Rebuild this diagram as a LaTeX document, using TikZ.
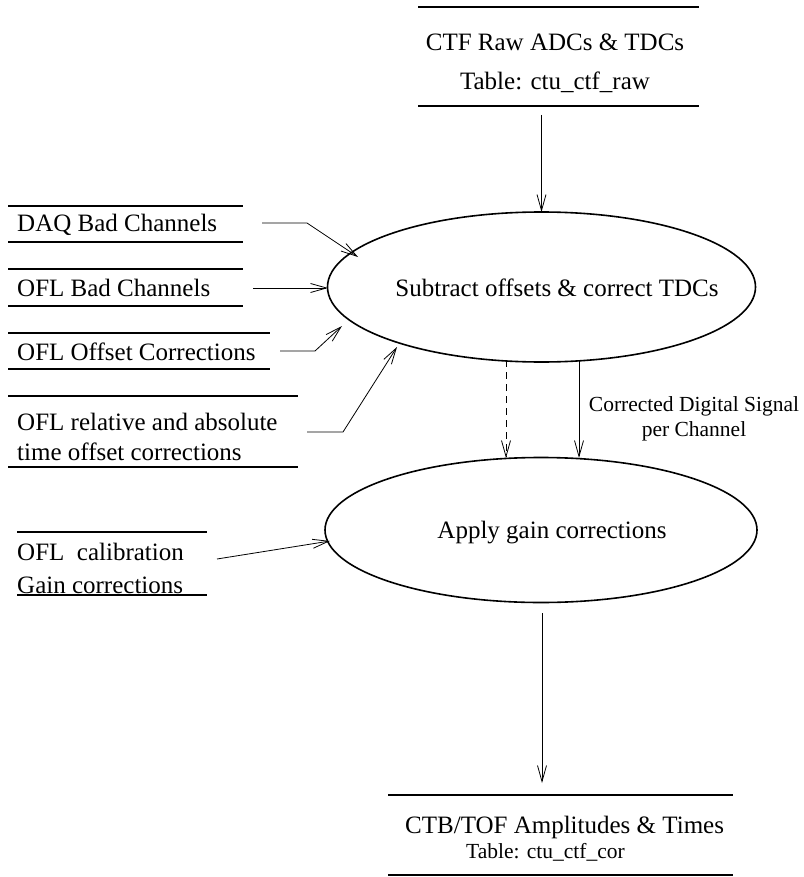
\documentclass[tikz,border=0pt]{standalone}
\usepackage{fontspec}
\setmainfont{Liberation Serif}
\usetikzlibrary{arrows.meta,shapes.geometric}
\begin{document}
\begin{tikzpicture}[x=1pt,y=-1pt,
  every node/.style={inner sep=0pt, font=\fontsize{25}{30}\selectfont},
  rule/.style={line width=1.6pt},
  flow/.style={line width=0.8pt, -{Straight Barb[length=16pt,width=9pt]}},
  proc/.style={ellipse, draw, line width=1.6pt, inner sep=0pt, outer sep=0pt},
  lbl/.style={anchor=west},
  small/.style={font=\fontsize{21.5}{26}\selectfont}]
\useasboundingbox (0,0) rectangle (803,877);

% data store: raw ADCs and TDCs
\draw[rule] (418,7) -- (699,7);
\node (raw) at (555,42) {CTF Raw ADCs \& TDCs};
\node (rawtab) at (555,82) {Table: ctu\_ctf\_raw};
\draw[rule] (418,106) -- (699,106);

% processes (outline and caption set separately)
\node[proc, minimum width=428pt, minimum height=150pt] (sub) at (541.5,287) {};
\node (subtxt) at (557,288) {Subtract offsets \& correct TDCs};
\node[proc, minimum width=432pt, minimum height=145pt] (gain) at (541,530) {};
\node (gaintxt) at (552,533) {Apply gain corrections};

% input stores on the left
\draw[rule] (8,206) -- (243,206);
\node[lbl] (daq) at (17,225) {DAQ Bad Channels};
\draw[rule] (8,242) -- (243,242);

\draw[rule] (8,269) -- (243,269);
\node[lbl] (oflbad) at (17,288) {OFL Bad Channels};
\draw[rule] (8,306) -- (243,306);

\draw[rule] (8,333) -- (270,333);
\node[lbl] (ofloff) at (17,352) {OFL Offset Corrections};
\draw[rule] (8,369) -- (270,369);

\draw[rule] (8,396) -- (298,396);
\node[lbl] (oflrel) at (17,422) {OFL relative and absolute};
\node[lbl] (oflrelb) at (17,452) {time offset corrections};
\draw[rule] (8,467) -- (298,467);

\draw[rule] (17,532) -- (207,532);
\node[lbl] (oflcal) at (17,552) {OFL\ \ calibration};
\node[lbl] (oflcalb) at (17,585) {Gain corrections};
\draw[rule] (17,595) -- (207,595);

% output store
\draw[rule] (388,795) -- (733,795);
\node[lbl] (cor) at (405,827) {CTB/TOF Amplitudes \& Times};
\node[lbl, small] (cortab) at (466,852) {Table: ctu\_ctf\_cor};
\draw[rule] (388,875) -- (733,875);

% connector end points
\coordinate (rawout) at (541.5,115);
\coordinate (daqout) at (262,223);
\coordinate (daqbend) at (307,223);
\coordinate (daqin) at (358,257);
\coordinate (badout) at (253,288);
\coordinate (badin) at (328,288);
\coordinate (offout) at (280,351);
\coordinate (offbend) at (315,351);
\coordinate (offin) at (342,326);
\coordinate (relout) at (307,432);
\coordinate (relbend) at (343,432);
\coordinate (relin) at (397,347);
\coordinate (calout) at (217,559);
\coordinate (calin) at (330,541);
\coordinate (dashtop) at (506,360);
\coordinate (dashbot) at (506,458);
\coordinate (sigtop) at (579,360);
\coordinate (sigbot) at (579,458);
\coordinate (gainout) at (542,613);
\coordinate (corin) at (542,783);

% connectors
\draw[flow] (rawout) -- (sub.north);
\draw[flow] (daqout) -- (daqbend) -- (daqin);
\draw[flow] (badout) -- (badin);
\draw[flow] (offout) -- (offbend) -- (offin);
\draw[flow] (relout) -- (relbend) -- (relin);
\draw[flow] (calout) -- (calin);
\draw[flow, dashed, dash pattern=on 7pt off 5pt] (dashtop) -- (dashbot);
\draw[flow] (sigtop) -- (sigbot);
\draw[flow] (gainout) -- (corin);

\node[small] (siglbl) at (694,406) {Corrected Digital Signal};
\node[small] (siglblb) at (694,431) {per Channel};
\end{tikzpicture}
\end{document}
